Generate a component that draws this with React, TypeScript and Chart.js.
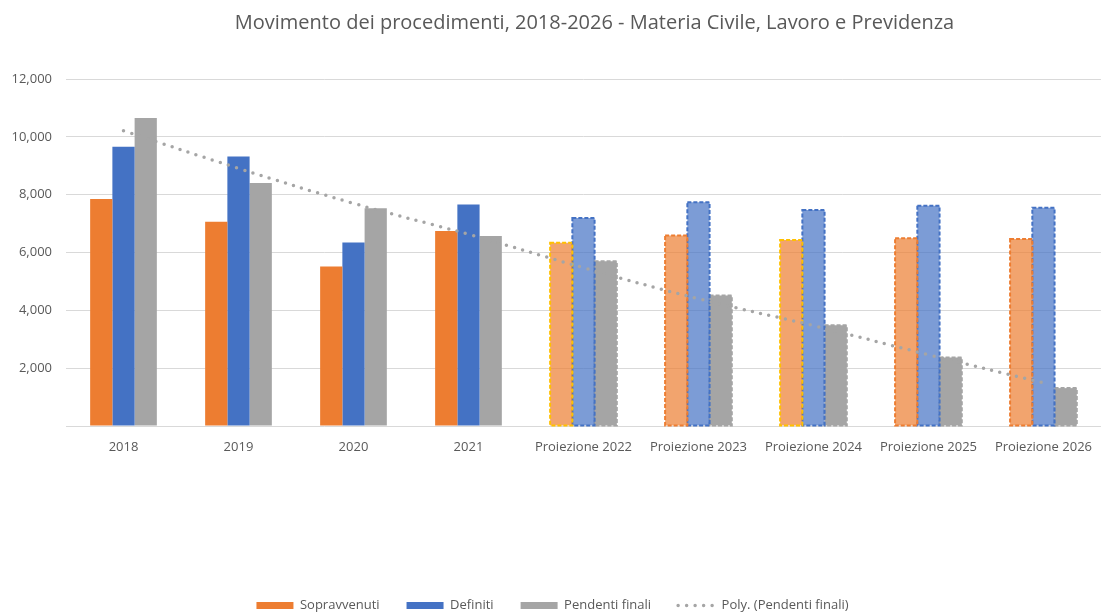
import React, { useEffect, useRef } from "react";
import { Chart, registerables } from "chart.js";

Chart.register(...registerables);

const chartTitle = "Movimento dei procedimenti, 2018-2026 - Materia Civile, Lavoro e Previdenza";
const categories = [
  "2018",
  "2019",
  "2020",
  "2021",
  "Proiezione 2022",
  "Proiezione 2023",
  "Proiezione 2024",
  "Proiezione 2025",
  "Proiezione 2026",
];
const sopravvenuti = [7850, 7060, 5520, 6740, 6340, 6590, 6430, 6490, 6470];
const definiti = [9660, 9320, 6350, 7660, 7190, 7740, 7470, 7620, 7550];
const pendentiFinali = [10650, 8400, 7530, 6570, 5700, 4510, 3480, 2370, 1310];
const polyPendenti = [10210, 8910, 7700, 6630, 5475, 4400, 3470, 2465, 1490];
const seriesNames = ["Sopravvenuti", "Definiti", "Pendenti finali", "Poly. (Pendenti finali)"];
const yMin = 0;
const yMax = 12000;
const yStep = 2000;
const projectionStart = 4;

const ORANGE = "#ED7D31";
const BLUE = "#4472C4";
const GRAY = "#A5A5A5";
const YELLOW = "#FFC000";
const TEXT = "#595959";
const FONT = "'Open Sans', 'Noto Sans', sans-serif";

const isProj = (i: number) => i >= projectionStart;

const orangeBorders = categories.map((_, i) =>
  !isProj(i) ? ORANGE : i === 4 || i === 6 ? YELLOW : ORANGE
);

const dashedBorders = {
  id: "dashedBorders",
  afterDatasetDraw(chart: any, args: any) {
    const ds: any = chart.data.datasets[args.index];
    if (!ds.projBorders) return;
    const ctx = chart.ctx;
    ctx.save();
    ctx.setLineDash([4, 2]);
    ctx.lineWidth = 2;
    args.meta.data.forEach((el: any, i: number) => {
      if (!isProj(i)) return;
      const p = el.getProps(["x", "y", "base", "width"], true);
      ctx.strokeStyle = ds.projBorders[i];
      ctx.strokeRect(p.x - p.width / 2, p.y, p.width, p.base - p.y);
    });
    ctx.restore();
  },
};

const titlePlugin = {
  id: "excelTitle",
  afterDraw(chart: any) {
    const ctx = chart.ctx;
    const area = chart.chartArea;
    ctx.save();
    ctx.font = `20px ${FONT}`;
    ctx.fillStyle = TEXT;
    ctx.textAlign = "center";
    ctx.textBaseline = "middle";
    ctx.fillText(chartTitle, (area.left + area.right) / 2 + 11, 23);
    ctx.restore();
  },
};

export default function App() {
  const ref = useRef<HTMLCanvasElement | null>(null);

  useEffect(() => {
    if (!ref.current) return;
    const chart = new Chart(ref.current, {
      type: "bar",
      data: {
        labels: categories,
        datasets: [
          {
            type: "line",
            label: seriesNames[3],
            data: polyPendenti,
            borderColor: GRAY,
            borderWidth: 3.5,
            borderDash: [0, 8.5],
            borderCapStyle: "round",
            pointRadius: 0,
            tension: 0.4,
            fill: false,
            order: 0,
          } as any,
          {
            label: seriesNames[0],
            data: sopravvenuti,
            backgroundColor: categories.map((_, i) => (isProj(i) ? "rgba(237,125,49,0.7)" : ORANGE)),
            borderWidth: 0,
            projBorders: orangeBorders,
            order: 1,
          } as any,
          {
            label: seriesNames[1],
            data: definiti,
            backgroundColor: categories.map((_, i) => (isProj(i) ? "rgba(68,114,196,0.7)" : BLUE)),
            borderWidth: 0,
            projBorders: categories.map(() => BLUE),
            order: 2,
          } as any,
          {
            label: seriesNames[2],
            data: pendentiFinali,
            backgroundColor: GRAY,
            borderWidth: 0,
            projBorders: categories.map(() => GRAY),
            order: 3,
          } as any,
        ],
      },
      options: {
        responsive: false,
        animation: false,
        layout: { padding: { top: 79, left: 0, right: 0, bottom: 0 } },
        datasets: {
          bar: { categoryPercentage: 0.58, barPercentage: 1 },
        },
        scales: {
          x: {
            grid: { display: false, drawTicks: false },
            border: { display: false },
            ticks: { color: TEXT, font: { family: FONT, size: 13 }, padding: 13, maxRotation: 0, autoSkip: false },
            afterFit: (scale: any) => {
              scale.height = 146;
            },
          },
          y: {
            min: yMin,
            max: yMax,
            grid: { color: "#D9D9D9", lineWidth: 1, drawTicks: false },
            border: { display: false },
            ticks: {
              stepSize: yStep,
              color: TEXT,
              font: { family: FONT, size: 13 },
              padding: 14,
              callback: (v: any) => (v === 0 ? "" : Number(v).toLocaleString("en-US")),
            },
            afterFit: (scale: any) => {
              scale.width = 66;
            },
          },
        },
        plugins: {
          title: { display: false },
          tooltip: { enabled: false },
          legend: {
            position: "bottom",
            labels: {
              usePointStyle: true,
              pointStyleWidth: 37,
              boxHeight: 7,
              padding: 27,
              color: TEXT,
              font: { family: FONT, size: 13 },
              generateLabels: () => [
                { text: seriesNames[0], fillStyle: ORANGE, strokeStyle: ORANGE, lineWidth: 0, pointStyle: "rect", hidden: false, datasetIndex: 1, fontColor: TEXT },
                { text: seriesNames[1], fillStyle: BLUE, strokeStyle: BLUE, lineWidth: 0, pointStyle: "rect", hidden: false, datasetIndex: 2, fontColor: TEXT },
                { text: seriesNames[2], fillStyle: GRAY, strokeStyle: GRAY, lineWidth: 0, pointStyle: "rect", hidden: false, datasetIndex: 3, fontColor: TEXT },
                {
                  text: seriesNames[3],
                  fillStyle: "rgba(0,0,0,0)",
                  strokeStyle: GRAY,
                  lineWidth: 3.5,
                  lineDash: [0, 8.5],
                  lineCap: "round",
                  pointStyle: "line",
                  hidden: false,
                  datasetIndex: 0,
                  fontColor: TEXT,
                },
              ],
            },
          },
        },
      } as any,
      plugins: [dashedBorders, titlePlugin],
    });
    return () => chart.destroy();
  }, []);

  return (
    <div
      style={{
        position: "fixed",
        left: 0,
        top: 0,
        width: 1102,
        height: 614,
        overflow: "hidden",
        background: "#ffffff",
      }}
    >
      <canvas ref={ref} width={1105} height={622} style={{ display: "block" }} />
    </div>
  );
}
